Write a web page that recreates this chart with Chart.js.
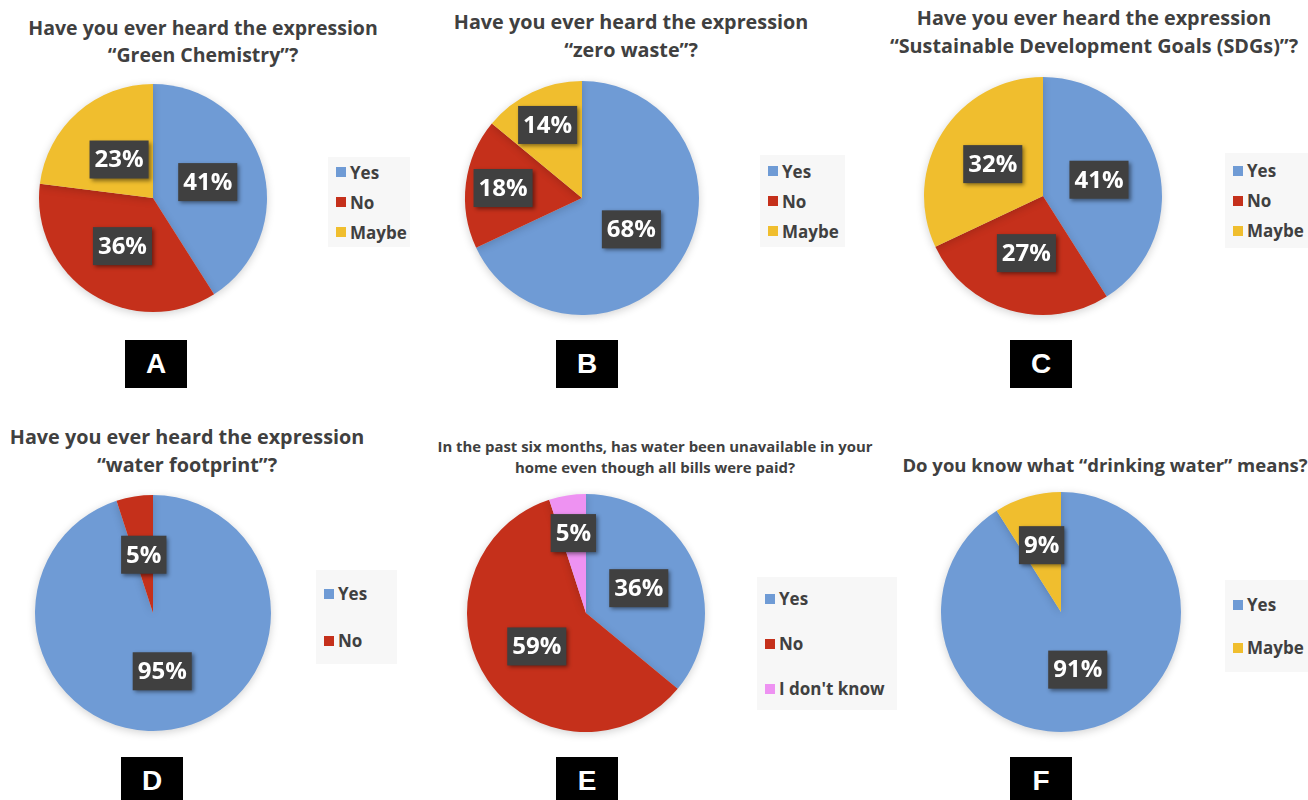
<!DOCTYPE html>
<html>
<head>
<meta charset="utf-8">
<script src="https://cdn.jsdelivr.net/npm/chart.js@4.4.1/dist/chart.umd.min.js"></script>
<style>
  html, body { margin: 0; padding: 0; background: #fff; }
  body { width: 1308px; height: 800px; position: relative; overflow: hidden; font-family: 'Open Sans', sans-serif; }
  .title { position: absolute; width: 640px; text-align: center; font-weight: 700; color: #404040; white-space: nowrap; }
  .pie { position: absolute; }
  .legend { position: absolute; background: #F7F7F7; display: flex; flex-direction: column; justify-content: center; box-sizing: border-box; padding-left: 8px; }
  .legend .item { display: flex; align-items: center; font-weight: 700; font-size: 17px; color: #404040; height: 24px; }
  .legend .sw { width: 10px; height: 10px; margin-right: 4px; }
  .letter { position: absolute; width: 62px; height: 48px; background: #000; color: #fff; font-family: 'Liberation Sans', Arial, sans-serif; font-weight: 700; font-size: 28px; display: flex; align-items: center; justify-content: center; }
</style>
</head>
<body>
<script>
// --- data ---
const letters = ['A', 'B', 'C', 'D', 'E', 'F'];
const titles = [
  ['Have you ever heard the expression', '\u201cGreen Chemistry\u201d?'],
  ['Have you ever heard the expression', '\u201czero waste\u201d?'],
  ['Have you ever heard the expression', '\u201cSustainable Development Goals (SDGs)\u201d?'],
  ['Have you ever heard the expression', '\u201cwater footprint\u201d?'],
  ['In the past six months, has water been unavailable in your', 'home even though all bills were paid?'],
  ['Do you know what \u201cdrinking water\u201d means?'],
];
const catsA = ['Yes', 'No', 'Maybe'];            const valsA = [41, 36, 23];
const catsB = ['Yes', 'No', 'Maybe'];            const valsB = [68, 18, 14];
const catsC = ['Yes', 'No', 'Maybe'];            const valsC = [41, 27, 32];
const catsD = ['Yes', 'No'];                     const valsD = [95, 5];
const catsE = ['Yes', 'No', "I don't know"];     const valsE = [36, 59, 5];
const catsF = ['Yes', 'Maybe'];                  const valsF = [91, 9];

const cats = [catsA, catsB, catsC, catsD, catsE, catsF];
const vals = [valsA, valsB, valsC, valsD, valsE, valsF];

const colorOf = { 'Yes': '#6F9BD5', 'No': '#C5301B', 'Maybe': '#F0BE2E', "I don't know": '#EE92F2' };

// --- layout (positions/sizes only) ---
const layout = [
  { pie: [153, 198, 114], title: [203, 27, 27, 19.5], legend: [328, 157, 82, 90, 30], letter: [125, 340], lab: [0.5, 0.5, 0.45] },
  { pie: [582, 198, 117], title: [631, 22, 28, 19.8], legend: [760, 155, 85, 92, 30], letter: [556, 340], lab: [0.5, 0.68, 0.69] },
  { pie: [1043, 196, 119], title: [1094, 18, 28, 19.8], legend: [1225, 153, 83, 95, 30], letter: [1010, 340], lab: [0.49, 0.5, 0.5] },
  { pie: [153, 613, 118], title: [187, 437, 28, 19.8], legend: [316, 570, 81, 94, 47], letter: [121, 757], lab: [0.5, 0.5] },
  { pie: [586, 613, 119], title: [655, 446, 21, 14.9], legend: [757, 577, 140, 133, 45], letter: [556, 757], lab: [0.49, 0.5, 0.68] },
  { pie: [1061, 612, 120], title: [1105, 465, 28, 18.5], legend: [1225, 580, 83, 92, 43], letter: [1010, 757], lab: [0.5, 0.58] },
];

// dark boxed percentage labels, like Excel's data callouts
const boxLabels = {
  id: 'boxLabels',
  afterDatasetsDraw(chart, args, opts) {
    const ctx = chart.ctx;
    const meta = chart.getDatasetMeta(0);
    const data = chart.data.datasets[0].data;
    ctx.save();
    ctx.font = '700 24px "Open Sans"';
    ctx.textAlign = 'center';
    ctx.textBaseline = 'middle';
    meta.data.forEach((arc, i) => {
      const p = arc.getProps(['x', 'y', 'startAngle', 'endAngle', 'outerRadius'], true);
      const mid = (p.startAngle + p.endAngle) / 2;
      const rr = p.outerRadius * (opts.factors[i] || 0.5);
      const x = p.x + Math.cos(mid) * rr, y = p.y + Math.sin(mid) * rr;
      const txt = data[i] + '%';
      const w = ctx.measureText(txt).width + 10, h = 38;
      ctx.shadowColor = 'rgba(0,0,0,0.45)';
      ctx.shadowBlur = 4; ctx.shadowOffsetX = 2; ctx.shadowOffsetY = 2;
      ctx.fillStyle = '#404040';
      ctx.fillRect(x - w / 2, y - h / 2, w, h);
      ctx.shadowColor = 'transparent';
      ctx.fillStyle = '#fff';
      ctx.fillText(txt, x, y + 1);
    });
    ctx.restore();
  },
};

// soft shadow around the pie
const pieShadow = {
  id: 'pieShadow',
  beforeDatasetsDraw(chart) {
    const ctx = chart.ctx;
    ctx.save();
    ctx.shadowColor = 'rgba(0,0,0,0.18)';
    ctx.shadowBlur = 8;
    ctx.shadowOffsetY = 2;
  },
  afterDatasetsDraw(chart) { chart.ctx.restore(); },
};

function el(tag, cls, css, parent) {
  const e = document.createElement(tag);
  if (cls) e.className = cls;
  if (css) e.style.cssText = css;
  (parent || document.body).appendChild(e);
  return e;
}

layout.forEach((L, k) => {
  const [cx, cy, r] = L.pie;
  const pad = 12;
  const size = 2 * r + 2 * pad;
  const holder = el('div', 'pie', `left:${cx - size / 2}px;top:${cy - size / 2}px;width:${size}px;height:${size}px;`);
  const canvas = el('canvas', null, null, holder);

  // title
  const [tx, ty, lh, fs] = L.title;
  const t = el('div', 'title', `left:${tx - 320}px;top:${ty - lh / 2}px;line-height:${lh}px;font-size:${fs}px;`);
  titles[k].forEach((line, j) => { if (j) t.appendChild(document.createElement('br')); t.appendChild(document.createTextNode(line)); });

  // legend
  const [lx, ly, lw, lhh, gap] = L.legend;
  const lg = el('div', 'legend', `left:${lx}px;top:${ly}px;width:${lw}px;height:${lhh}px;gap:${gap - 24}px;`);
  cats[k].forEach((c) => {
    const it = el('div', 'item', null, lg);
    el('span', 'sw', `background:${colorOf[c]};`, it);
    it.appendChild(document.createTextNode(c));
  });

  // panel letter
  const lt = el('div', 'letter', `left:${L.letter[0]}px;top:${L.letter[1]}px;`);
  lt.textContent = letters[k];

  new Chart(canvas, {
    type: 'pie',
    data: {
      labels: cats[k],
      datasets: [{ data: vals[k], backgroundColor: cats[k].map((c) => colorOf[c]), borderWidth: 0 }],
    },
    options: {
      responsive: true, maintainAspectRatio: false, animation: false,
      layout: { padding: pad },
      plugins: { legend: { display: false }, tooltip: { enabled: false }, boxLabels: { factors: L.lab } },
    },
    plugins: [pieShadow, boxLabels],
  });
});
</script>
</body>
</html>
